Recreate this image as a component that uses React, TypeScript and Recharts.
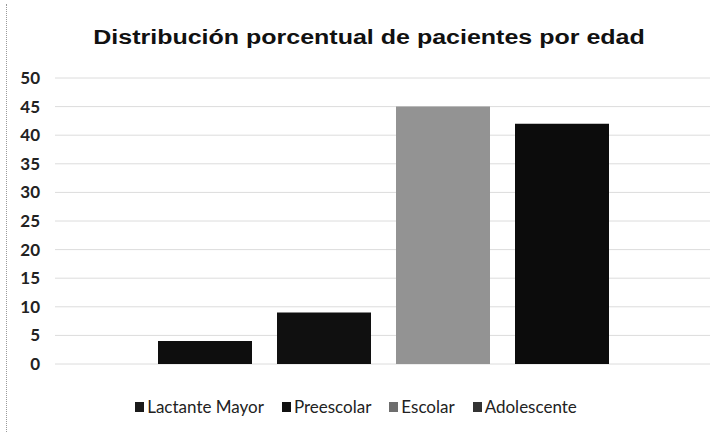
import { BarChart, Bar, XAxis, YAxis, CartesianGrid, Legend } from 'recharts';

const categories = ['Edad'];
const seriesNames = ['Lactante Mayor', 'Preescolar', 'Escolar', 'Adolescente'];
const seriesValues = [4, 9, 45, 42];
const yTicks = [0, 5, 10, 15, 20, 25, 30, 35, 40, 45, 50];

const SERIES_COLORS = ['#0e0e0e', '#101010', '#939393', '#0c0c0c'];
const LEGEND_COLORS = ['#1a1a1a', '#111111', '#6e6e6e', '#333333'];

const data = categories.map(name => {
  const row: Record<string, string | number> = { name };
  seriesNames.forEach((s, i) => { row[s] = seriesValues[i]; });
  return row;
});

function LegendContent() {
  return (
    <div style={{ display: 'flex', justifyContent: 'center', gap: 18, fontFamily: 'Lato, sans-serif', fontSize: 17, color: '#222' }}>
      {seriesNames.map((s, i) => (
        <span key={s} style={{ display: 'inline-flex', alignItems: 'center' }}>
          <span style={{ display: 'inline-block', width: 9, height: 10, background: LEGEND_COLORS[i], marginRight: 3 }} />
          {s}
        </span>
      ))}
    </div>
  );
}

export default function App() {
  return (
    <div style={{ position: 'absolute', left: 0, top: 0, width: 720, height: 432, background: '#fff' }}>
      <div style={{ position: 'absolute', left: 6, top: 4, width: 1, height: 428, borderLeft: '1px dotted #9a9a9a' }} />
      {/* title is horizontally stretched in the original */}
      <div
        style={{
          position: 'absolute', top: 26, left: 0, width: 738, textAlign: 'center',
          transform: 'scaleX(1.25)', transformOrigin: '369px 0',
          fontFamily: '"Liberation Sans", Arial, sans-serif', fontWeight: 'bold', fontSize: 20, color: '#111',
        }}
      >
        Distribución porcentual de pacientes por edad
      </div>
      <BarChart
        width={720}
        height={432}
        data={data}
        margin={{ top: 78, right: 10, bottom: 68, left: 0 }}
        barCategoryGap={103}
        barGap={25}
      >
        <CartesianGrid vertical={false} stroke="#dcdcdc" />
        <XAxis dataKey="name" hide />
        <YAxis
          domain={[0, 50]}
          ticks={yTicks}
          width={55}
          axisLine={false}
          tickLine={false}
          tickSize={0}
          tickMargin={15}
          interval={0}
          tick={{ fontSize: 17, fontWeight: 'bold', fill: '#222', fontFamily: 'Lato, sans-serif' }}
        />
        <Legend
          verticalAlign="middle"
          align="center"
          layout="horizontal"
          wrapperStyle={{ top: 396, left: 0, width: 712 }}
          content={<LegendContent />}
        />
        {seriesNames.map((s, i) => (
          <Bar key={s} dataKey={s} fill={SERIES_COLORS[i]} isAnimationActive={false} />
        ))}
      </BarChart>
    </div>
  );
}
